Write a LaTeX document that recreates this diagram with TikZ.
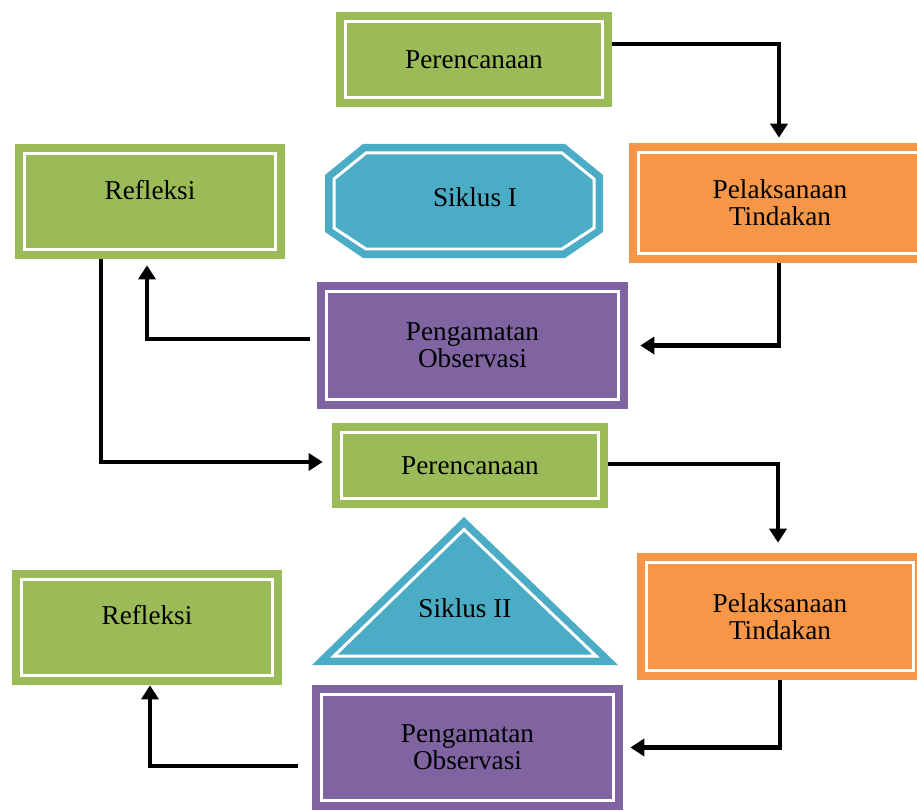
\documentclass[tikz,border=0pt]{standalone}
\usepackage{fontspec}
\setmainfont{Liberation Serif}
\usetikzlibrary{arrows.meta,calc}
\definecolor{boxgreen}{HTML}{9BBB59}
\definecolor{boxorange}{HTML}{F79646}
\definecolor{boxpurple}{HTML}{8064A2}
\definecolor{boxteal}{HTML}{4BACC6}
\tikzset{
  framed/.style={rectangle, inner sep=0pt, align=center,
    font=\fontsize{15.5}{15.5}\selectfont,
    path picture={\draw[white,line width=0.06cm]
      ([shift={(0.19cm,0.19cm)}]path picture bounding box.south west) rectangle
      ([shift={(-0.19cm,-0.19cm)}]path picture bounding box.north east);}},
  gbox/.style={framed, fill=boxgreen},
  obox/.style={framed, fill=boxorange},
  pbox/.style={framed, fill=boxpurple},
  lbl/.style={inner sep=0pt, align=center, font=\fontsize{15.5}{15.5}\selectfont},
  arr/.style={line width=0.09cm, -{Triangle[length=0.28cm,width=0.34cm]}},
  innerline/.style={white, line width=0.06cm, line join=miter}
}
\begin{document}
\begin{tikzpicture}[x=0.02cm,y=-0.02cm]
\useasboundingbox (0,0) rectangle (917,811);
\clip (0,0) rectangle (917,811);

% boxes
\node[gbox, minimum width=5.52cm, minimum height=1.90cm] (P1) at (474,59.5) {Perencanaan};
\node[gbox, minimum width=5.40cm, minimum height=2.30cm] (R1) at (150,201.5) {};
\node[lbl] (R1t) at (150,190) {Refleksi};
\node[obox, minimum width=6.04cm, minimum height=2.40cm] (L1) at (780,203) {Pelaksanaan\\Tindakan};
\node[pbox, minimum width=6.22cm, minimum height=2.54cm] (O1) at (472.5,345.5) {Pengamatan\\Observasi};
\node[gbox, minimum width=5.52cm, minimum height=1.70cm] (P2) at (470,465.5) {Perencanaan};
\node[gbox, minimum width=5.40cm, minimum height=2.30cm] (R2) at (147,627.5) {};
\node[lbl] (R2t) at (147,615) {Refleksi};
\node[obox, minimum width=5.72cm, minimum height=2.54cm] (L2) at (780,616.5) {Pelaksanaan\\Tindakan};
\node[pbox, minimum width=6.22cm, minimum height=2.50cm] (O2) at (467.5,747.5) {Pengamatan\\Observasi};

% Siklus I octagon
\fill[boxteal] (363,144) -- (565,144) -- (603,175) -- (603,232) -- (565,258) -- (363,258) -- (325,232) -- (325,175) -- cycle;
\draw[innerline] (366,153) -- (562,153) -- (594,179) -- (594,228) -- (562,249) -- (366,249) -- (334,228) -- (334,179) -- cycle;
\node[lbl] (S1) at (475,197) {Siklus I};

% Siklus II triangle
\fill[boxteal] (464,517) -- (618,665) -- (312,665) -- cycle;
\draw[innerline] (464,529.5) -- (596,656) -- (334,656) -- cycle;
\node[lbl] (S2) at (465,608) {Siklus II};

% connectors
\draw[arr] ([yshift=0.31cm]P1.east) -| ([xshift=-0.02cm,yshift=0.1cm]L1.north);
\draw[arr] ([xshift=-0.02cm]L1.south) |- ([xshift=0.24cm]O1.east);
\draw[arr] ([xshift=-0.14cm,yshift=0.13cm]O1.west) -| ([xshift=-0.06cm,yshift=-0.12cm]R1.south);
\draw[arr] ([xshift=-0.98cm]R1.south) |- ([xshift=-0.18cm,yshift=0.07cm]P2.west);
\draw[arr] ([yshift=0.03cm]P2.east) -| ([xshift=-0.04cm,yshift=0.2cm]L2.north);
\draw[arr] (L2.south) |- ([xshift=0.14cm]O2.east);
\draw[arr] ([xshift=-0.28cm,yshift=-0.37cm]O2.west) -| ([xshift=0.06cm]R2.south);
\end{tikzpicture}
\end{document}
